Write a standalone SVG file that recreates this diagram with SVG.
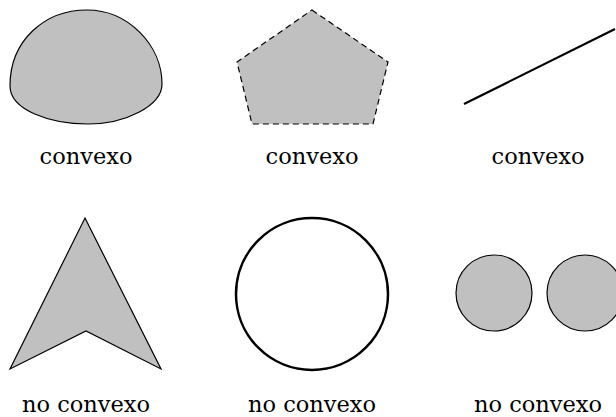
<svg xmlns="http://www.w3.org/2000/svg" width="616" height="417" viewBox="0 0 616 417">
<style>
.shape{fill:#c0c0c0;stroke:#000;stroke-width:1.2;stroke-linejoin:miter}
.lbl{font-family:"DejaVu Serif","Liberation Serif","Times New Roman",Times,serif;font-size:22.5px;fill:#000;text-anchor:middle}
</style>
<rect width="616" height="417" fill="#fff"/>
<g id="dome">
<path class="shape" d="M 10,86 C 10,40 45,10 87,10 C 128,10 162,45 162,84 C 162,106 125,124 88,124 C 50,124 10,110 10,86 Z"/>
<text class="lbl" x="86" y="164">convexo</text>
</g>
<g id="pentagon">
<polygon class="shape" points="312,10 388,62 373,124 252,124 237,62" stroke-dasharray="6,4"/>
<text class="lbl" x="312" y="164">convexo</text>
</g>
<g id="segment">
<line x1="464" y1="104" x2="615" y2="29" stroke="#000" stroke-width="2.2"/>
<text class="lbl" x="538" y="164">convexo</text>
</g>
<g id="arrow">
<polygon class="shape" points="85,218 161,369 86,331 10,369" stroke-width="1"/>
<text class="lbl" x="86" y="412">no convexo</text>
</g>
<g id="ring">
<circle cx="312" cy="294" r="76" fill="none" stroke="#000" stroke-width="2.5"/>
<text class="lbl" x="312" y="412">no convexo</text>
</g>
<g id="twocircles">
<circle class="shape" cx="494" cy="293" r="38"/>
<circle class="shape" cx="585" cy="293" r="38"/>
<text class="lbl" x="538" y="412">no convexo</text>
</g>
</svg>
